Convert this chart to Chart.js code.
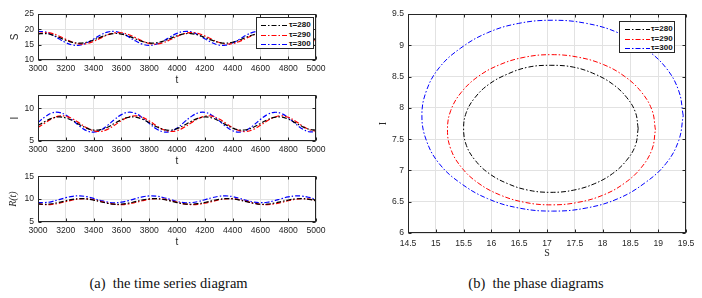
<!DOCTYPE html>
<html><head><meta charset="utf-8">
<script src="https://cdn.jsdelivr.net/npm/chart.js@4.4.1/dist/chart.umd.min.js"></script>
<style>
html,body{margin:0;padding:0;background:#fff;}
#wrap{position:relative;width:702px;height:298px;overflow:hidden;background:#fff;}
#wrap canvas{position:absolute;}
.leg{position:absolute;background:#fff;border:1px solid #262626;box-sizing:border-box;font:bold 8px 'Liberation Sans',Arial,sans-serif;color:#111;}
.row{position:absolute;left:0;height:10px;line-height:10px;white-space:nowrap;width:100%;}
.row svg{position:absolute;top:0;left:0;}
.row span{position:absolute;top:0;}
.cap{position:absolute;top:275px;font:14.5px 'Liberation Serif','Times New Roman',serif;line-height:16px;white-space:nowrap;transform:translateX(-50%);color:#111;}
</style></head>
<body>
<div id="wrap">
  <canvas id="c1" width="330" height="86" style="left:0;top:0"></canvas>
  <canvas id="c2" width="330" height="81" style="left:0;top:86px"></canvas>
  <canvas id="c3" width="330" height="81" style="left:0;top:167px"></canvas>
  <canvas id="c4" width="342" height="262" style="left:360px;top:0"></canvas>
  <div class="leg" id="leg1" style="left:256px;top:17px;width:58px;height:32px"></div>
  <div class="leg" id="leg2" style="left:619px;top:21px;width:56px;height:32px"></div>
  <div class="cap" style="left:168.5px">(a)&nbsp; the time series diagram</div>
  <div class="cap" style="left:536px">(b)&nbsp; the phase diagrams</div>
</div>
<script>
// ---------- data ----------
const t = [3000,3050,3100,3150,3200,3250,3300,3350,3400,3450,3500,3550,3600,3650,3700,3750,3800,3850,3900,3950,
           4000,4050,4100,4150,4200,4250,4300,4350,4400,4450,4500,4550,4600,4650,4700,4750,4800,4850,4900,4950,5000];

const S280 = [18.50,18.62,18.19,17.37,16.45,15.75,15.50,15.80,16.54,17.47,18.25,18.63,18.46,17.81,16.91,16.05,15.56,15.58,16.13,17.00,17.90,
              18.51,18.61,18.18,17.36,16.46,15.76,15.51,15.79,16.53,17.46,18.24,18.64,18.47,17.82,16.92,16.06,15.57,15.57,16.12,16.99];
const S290 = [18.57,18.95,18.67,17.84,16.75,15.77,15.25,15.36,16.07,17.13,18.18,18.84,18.89,18.31,17.31,16.22,15.43,15.22,15.65,16.58,17.68,
              18.58,18.94,18.66,17.83,16.76,15.78,15.26,15.35,16.06,17.12,18.17,18.85,18.90,18.32,17.30,16.21,15.42,15.23,15.66,16.59];
const S300 = [19.32,19.15,18.25,16.94,15.66,14.87,14.84,15.57,16.82,18.15,19.10,19.33,18.78,17.62,16.26,15.18,14.75,15.12,16.16,17.51,18.70,
              19.30,19.16,18.27,16.96,15.68,14.88,14.83,15.55,16.80,18.13,19.08,19.34,18.80,17.64,16.28,15.20,14.77,15.10,16.14,17.48];

const I280 = [7.38,7.98,8.47,8.68,8.53,8.09,7.49,6.96,6.67,6.73,7.11,7.68,8.25,8.62,8.65,8.34,7.80,7.21,6.78,6.65,6.88,
              7.39,7.97,8.46,8.67,8.54,8.10,7.50,6.97,6.68,6.72,7.10,7.67,8.24,8.61,8.66,8.35,7.81,7.22,6.79,6.66];
const I290 = [7.07,7.76,8.41,8.80,8.79,8.38,7.72,7.03,6.56,6.47,6.78,7.40,8.11,8.65,8.85,8.63,8.07,7.36,6.76,6.46,6.58,
              7.08,7.75,8.40,8.79,8.80,8.39,7.73,7.04,6.57,6.46,6.77,7.39,8.10,8.64,8.84,8.62,8.06,7.35,6.75,6.47];
const I300 = [7.82,8.69,9.28,9.37,8.95,8.16,7.26,6.58,6.35,6.65,7.38,8.27,9.03,9.39,9.22,8.58,7.70,6.88,6.40,6.44,6.97,
              7.84,8.70,9.27,9.38,8.94,8.15,7.25,6.57,6.36,6.66,7.40,8.28,9.04,9.38,9.21,8.57,7.68,6.87,6.41,6.45];

const R280 = [8.96,8.86,8.98,9.27,9.63,9.94,10.10,10.03,9.78,9.42,9.08,8.88,8.89,9.10,9.45,9.80,10.04,10.09,9.93,9.60,9.24,
              8.97,8.87,8.99,9.26,9.62,9.93,10.09,10.04,9.79,9.43,9.09,8.87,8.90,9.11,9.44,9.79,10.03,10.10,9.94,9.61];
const R290 = [8.98,8.79,8.83,9.08,9.44,9.81,10.04,10.06,9.86,9.51,9.14,8.86,8.78,8.93,9.25,9.63,9.95,10.08,9.99,9.70,9.32,
              8.97,8.80,8.84,9.09,9.45,9.82,10.05,10.07,9.85,9.50,9.13,8.85,8.79,8.94,9.26,9.64,9.96,10.07,9.98,9.69];
const R300 = [9.24,9.23,9.46,9.87,10.30,10.61,10.69,10.52,10.14,9.70,9.34,9.20,9.32,9.65,10.09,10.48,10.69,10.64,10.35,9.92,9.50,
              9.25,9.22,9.45,9.86,10.29,10.60,10.70,10.53,10.15,9.71,9.35,9.21,9.31,9.64,10.08,10.47,10.68,10.65,10.36,9.93];

// phase-plane orbits (S, I)
const phS280 = [18.64,18.59,18.43,18.18,17.86,17.48,17.07,16.66,16.29,15.96,15.71,15.55,15.50,15.55,15.71,15.96,16.29,16.66,17.07,17.48,17.86,18.18,18.43,18.59,18.64];
const phI280 = [7.67,7.93,8.17,8.38,8.54,8.65,8.68,8.65,8.54,8.38,8.17,7.93,7.67,7.40,7.16,6.95,6.79,6.685,6.65,6.685,6.79,6.95,7.16,7.40,7.67];
const phS290 = [18.95,18.89,18.70,18.40,18.02,17.56,17.08,16.60,16.15,15.76,15.46,15.27,15.21,15.27,15.46,15.76,16.15,16.60,17.08,17.56,18.02,18.40,18.70,18.89,18.95];
const phI290 = [7.65,7.96,8.25,8.50,8.69,8.81,8.85,8.81,8.69,8.50,8.25,7.96,7.65,7.34,7.05,6.80,6.61,6.49,6.45,6.49,6.61,6.80,7.05,7.34,7.65];
const phS300 = [19.45,19.37,19.14,18.76,18.28,17.71,17.10,16.49,15.93,15.44,15.06,14.83,14.75,14.83,15.06,15.44,15.93,16.49,17.10,17.71,18.28,18.76,19.14,19.37,19.45];
const phI300 = [7.875,8.27,8.64,8.95,9.20,9.35,9.40,9.35,9.20,8.95,8.64,8.27,7.875,7.48,7.11,6.80,6.55,6.40,6.35,6.40,6.55,6.80,7.11,7.48,7.875];

const tauLabels = ['\u03c4=280','\u03c4=290','\u03c4=300'];
const colors = ['#000000','#ff0000','#0000ff'];

const tTicks = [3000,3200,3400,3600,3800,4000,4200,4400,4600,4800,5000];
const sTicks = [10,15,20,25];
const iTicks = [5,10];
const rTicks = [5,10,15];
const phSTicks = [14.5,15,15.5,16,16.5,17,17.5,18,18.5,19,19.5];
const phITicks = [6,6.5,7,7.5,8,8.5,9,9.5];

// ---------- styling helpers ----------
const SANS = "'Liberation Sans', Arial, Helvetica, sans-serif";
const SERIF = "'Liberation Serif', 'Times New Roman', serif";
const tickFont = {family: SANS, size: 8.6};
const gridC = '#e2e2e2';
const axC = '#262626';
const DASH = [5,2,1.5,2];

const boxPlugin = {
  id: 'matlabBox',
  afterDraw(chart) {
    const {ctx, chartArea: a} = chart;
    const xs = chart.scales.x, ys = chart.scales.y;
    const L = Math.round(a.left) + 0.5, R = Math.round(a.right) - 0.5;
    const T = Math.round(a.top) + 0.5, B = Math.round(a.bottom) - 0.5;
    ctx.save();
    ctx.strokeStyle = axC; ctx.lineWidth = 1;
    ctx.beginPath();
    xs.ticks.forEach(tk => { const p = Math.round(xs.getPixelForValue(tk.value)) + 0.5;
      ctx.moveTo(p, B); ctx.lineTo(p, B - 3); ctx.moveTo(p, T); ctx.lineTo(p, T + 3); });
    ys.ticks.forEach(tk => { const p = Math.round(ys.getPixelForValue(tk.value)) + 0.5;
      ctx.moveTo(L, p); ctx.lineTo(L + 3, p); ctx.moveTo(R, p); ctx.lineTo(R - 3, p); });
    ctx.stroke();
    ctx.strokeRect(L, T, R - L, B - T);
    ctx.restore();
  }
};

function makeChart(id, datasets, o) {
  return new Chart(document.getElementById(id), {
    type: 'line',
    data: {datasets},
    options: {
      responsive: false, maintainAspectRatio: false, animation: false,
      layout: {padding: o.pad},
      plugins: {legend: {display: false}, tooltip: {enabled: false}},
      elements: {point: {radius: 0}, line: {tension: 0.4}},
      scales: {
        x: {
          type: 'linear', position: 'bottom', min: o.xmin, max: o.xmax,
          afterBuildTicks: s => { s.ticks = o.xticks.map(v => ({value: v})); },
          afterFit: s => { s.height = o.xh; },
          ticks: {autoSkip: false, maxRotation: 0, minRotation: 0, padding: o.xtp, color: axC, font: tickFont, callback: v => String(v)},
          grid: {color: gridC, drawTicks: false, lineWidth: 1},
          border: {display: false},
          title: {display: true, text: o.xt, color: axC, font: o.xtf, padding: {top: 0, bottom: o.xtpad}}
        },
        y: {
          type: 'linear', position: 'left', min: o.ymin, max: o.ymax,
          afterBuildTicks: s => { s.ticks = o.yticks.map(v => ({value: v})); },
          afterFit: s => { s.width = o.yw; },
          ticks: {autoSkip: false, padding: 4, color: axC, font: tickFont, callback: v => String(v)},
          grid: {color: gridC, drawTicks: false, lineWidth: 1},
          border: {display: false},
          title: {display: true, text: o.yt, color: axC, font: o.ytf, padding: {top: o.ytpad, bottom: 0}}
        }
      }
    },
    plugins: [boxPlugin]
  });
}

function tsSets(arrs) {
  return arrs.map((arr, k) => ({
    label: tauLabels[k],
    data: t.map((x, i) => ({x: x, y: arr[i]})),
    borderColor: colors[k], borderWidth: 1.2, borderDash: DASH, fill: false
  }));
}

const sansTitle = {family: SANS, size: 10};

makeChart('c1', tsSets([S280, S290, S300]), {
  pad: {left: 0, right: 14, top: 14, bottom: 0},
  xmin: 3000, xmax: 5000, xticks: tTicks, xh: 26, xtp: 3, xt: 't', xtf: sansTitle, xtpad: 0,
  ymin: 10, ymax: 25, yticks: sTicks, yw: 38, yt: 'S', ytf: sansTitle, ytpad: 9
});
makeChart('c2', tsSets([I280, I290, I300]), {
  pad: {left: 0, right: 14, top: 8, bottom: 0},
  xmin: 3000, xmax: 5000, xticks: tTicks, xh: 26, xtp: 3, xt: 't', xtf: sansTitle, xtpad: 0,
  ymin: 5, ymax: 12, yticks: iTicks, yw: 38, yt: 'I', ytf: sansTitle, ytpad: 9
});
makeChart('c3', tsSets([R280, R290, R300]), {
  pad: {left: 0, right: 14, top: 9, bottom: 0},
  xmin: 3000, xmax: 5000, xticks: tTicks, xh: 26, xtp: 3, xt: 't', xtf: sansTitle, xtpad: 0,
  ymin: 5, ymax: 15, yticks: rTicks, yw: 38, yt: 'R(t)', ytf: {family: SERIF, size: 10, style: 'italic'}, ytpad: 7
});

const phS = [phS280, phS290, phS300], phI = [phI280, phI290, phI300];
makeChart('c4', phS.map((arr, k) => ({
    label: tauLabels[k],
    data: arr.map((x, i) => ({x: x, y: phI[k][i]})),
    borderColor: colors[k], borderWidth: 1, borderDash: DASH, fill: false
  })), {
  pad: {left: 0, right: 16, top: 14, bottom: 0},
  xmin: 14.5, xmax: 19.5, xticks: phSTicks, xh: 29, xtp: 5, xt: 'S', xtf: {family: SERIF, size: 10}, xtpad: 3,
  ymin: 6, ymax: 9.5, yticks: phITicks, yw: 48, yt: 'I', ytf: {family: SERIF, size: 10}, ytpad: 17
});

// ---------- legends (HTML, real text) ----------
function buildLegend(id, lineX0, lineX1, textX) {
  const el = document.getElementById(id);
  const rowsY = [2, 11.5, 21];
  tauLabels.forEach((lab, k) => {
    const r = document.createElement('div');
    r.className = 'row';
    r.style.top = rowsY[k] + 'px';
    r.innerHTML = '<svg width="' + (lineX1 + 2) + '" height="10"><line x1="' + lineX0 + '" y1="5.5" x2="' + lineX1 +
      '" y2="5.5" stroke="' + colors[k] + '" stroke-width="1.2" stroke-dasharray="' + DASH.join(',') + '"/></svg>' +
      '<span style="left:' + textX + 'px">' + lab + '</span>';
    el.appendChild(r);
  });
}
buildLegend('leg1', 4, 31, 32);
buildLegend('leg2', 5, 30, 31);
</script>
</body></html>
